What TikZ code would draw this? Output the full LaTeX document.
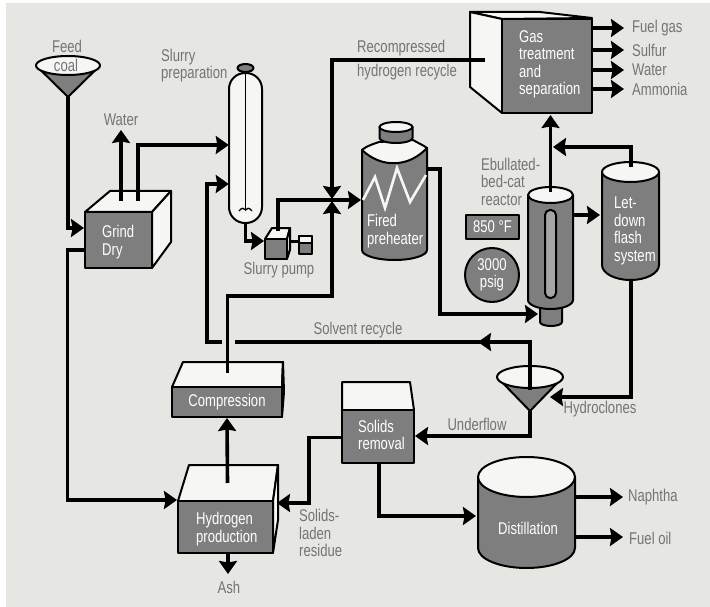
\documentclass[tikz,border=0pt]{standalone}
\usepackage{fontspec}
\setmainfont{Liberation Sans}[FakeStretch=0.77]
\usetikzlibrary{arrows.meta}
\definecolor{paper}{HTML}{E6E6E3}
\definecolor{unitgray}{HTML}{7E7E7E}
\definecolor{labelgray}{HTML}{747474}
\definecolor{topwhite}{HTML}{F6F6F4}
\tikzset{
  outline/.style={draw=black,line width=2pt,line join=round},
  face/.style={outline,fill=topwhite},
  unit/.style={outline,fill=unitgray,inner sep=0pt,text=white,align=left,font=\fontsize{17}{17.5}\selectfont},
  plain/.style={inner sep=0pt,text=white,align=left,font=\fontsize{17}{17.5}\selectfont},
  lbl/.style={inner sep=0pt,text=labelgray,align=left,font=\fontsize{17}{17.5}\selectfont},
  flow/.style={draw=black,line width=3.6pt,line join=miter,-{Stealth[length=13pt,width=18pt,inset=1.5pt]}},
  pipe/.style={draw=black,line width=3.6pt,line join=miter},
}
% cx, rx, y of top ellipse centre, ry top, y side bottom, ry bottom
\newcommand{\drumshape}[6]{%
  \draw[outline,fill=unitgray] ({#1-#2},#3) -- ({#1-#2},#5)
    arc[start angle=180,end angle=360,x radius=#2 pt,y radius=#6 pt] -- ({#1+#2},#3) -- cycle;
  \draw[face] (#1,#3) ellipse[x radius=#2 pt,y radius=#4 pt];
}
% ellipse cx, cy, rx, ry, apex y
\newcommand{\funnelshape}[5]{%
  \draw[outline,fill=unitgray] ({#1-#3},#2) -- (#1,#5) -- ({#1+#3},#2) -- cycle;
  \draw[face] (#1,#2) ellipse[x radius=#3 pt,y radius=#4 pt];
}
\begin{document}
\begin{tikzpicture}[x=1pt,y=-1pt]
\useasboundingbox (0,0) rectangle (710,607);
\fill[white] (0,0) rectangle (710,607);
\fill[paper] (6,3) rectangle (710,607);

% --- Feed funnel
\funnelshape{68}{65.5}{32}{9.5}{97}
\node[lbl] (feedlbl) at (67,46) {Feed};
\node[lbl] (coallbl) at (66,65) {coal};
\coordinate (feedapex) at (68,97);

% --- Grind / Dry
\draw[face] (85,212) -- (110,191) -- (171,191) -- (152,212) -- cycle;
\draw[face] (152,212) -- (171,191) -- (171,242) -- (152,268) -- cycle;
\node[unit,minimum width=67pt,minimum height=56pt] (grind) at (118.5,240) {};
\node[plain,anchor=west] (grindtxt) at (102,242) {Grind\\Dry};
\coordinate (waterstart) at (121,201);
\coordinate (waterend) at (121,130);
\coordinate (drystart) at (138,201);
\node[lbl] (waterlbl) at (121,120) {Water};

% --- Slurry column
\draw[face,rounded corners=16pt] (229,73) rectangle (262,223);
\draw[outline,fill=unitgray] (245.5,68) ellipse[x radius=8pt,y radius=4pt];
\node[inner sep=0pt,minimum width=33pt,minimum height=150pt] (column) at (245.5,148) {};
\draw[black,line width=1.3pt] (245.5,73) -- (245.5,210);
\draw[black,line width=1.3pt] (239,211) .. controls (242,207) and (244,208) .. (245.5,210) .. controls (247,208) and (249,207) .. (252,211);
\node[lbl,anchor=west] (slurrylbl) at (161,65.5) {Slurry\\preparation};

% --- Slurry pump
\draw[face] (265,239) -- (272,228) -- (290,228) -- (287,239) -- cycle;
\draw[face] (287,239) -- (290,228) -- (290,250) -- (287,259) -- cycle;
\node[unit,minimum width=22pt,minimum height=20pt] (pump) at (276,249) {};
\draw[black,line width=3pt] (290,241) -- (299,241);
\draw[outline,fill=unitgray] (299,236) rectangle (312,254);
\draw[outline,fill=topwhite] (299,236) rectangle (312,243);
\node[lbl] (pumplbl) at (279,270) {Slurry pump};

% --- Fired preheater
\draw[outline,fill=unitgray] (362,150) -- (362,250)
   arc[start angle=180,end angle=360,x radius=32.5pt,y radius=10pt] -- (427,148) -- cycle;
\draw[face] (362,150) .. controls (368,145) and (374,144) .. (379,142)
   -- (413,140) .. controls (418,143) and (423,145) .. (427,148)
   .. controls (408,168) and (381,168) .. (362,150) -- cycle;
\draw[outline,fill=unitgray] (379.5,127) -- (379.5,138)
   arc[start angle=180,end angle=360,x radius=16.5pt,y radius=5pt] -- (412.5,127) -- cycle;
\draw[face] (396,127) ellipse[x radius=16.5pt,y radius=5pt];
\draw[topwhite,line width=2.6pt,line join=miter] (363,200) -- (375,177) -- (385,208) -- (397,168) -- (410,202) -- (426,175);
\node[plain,anchor=west] (preheater) at (367,231) {Fired\\preheater};
\coordinate (heatin) at (361,200);

% --- Gas treatment
\draw[face] (470,12) -- (540,12) -- (592,18) -- (502,19) -- cycle;
\draw[face] (470,12) -- (502,19) -- (502,113) -- (470,87) -- cycle;
\node[unit,minimum width=90pt,minimum height=94pt] (gas) at (547,66) {};
\node[plain,anchor=west] (gastxt) at (519,64.5) {Gas\\treatment\\and\\separation};
\coordinate (recycleend) at (485,60);
\node[lbl,anchor=west] (recomp) at (357,48) {Recompressed};
\node[lbl,anchor=west] (hrecycle) at (357,72) {hydrogen recycle};
\node[lbl,anchor=west] (fuelgas) at (632,28) {Fuel gas};
\node[lbl,anchor=west] (sulfur) at (632,50) {Sulfur};
\node[lbl,anchor=west] (water2) at (632,70) {Water};
\node[lbl,anchor=west] (ammonia) at (632,89) {Ammonia};

% --- Reactor
\draw[outline,fill=unitgray] (540,300) -- (540,322) arc[start angle=180,end angle=360,x radius=11pt,y radius=4pt] -- (562,300) -- cycle;
\drumshape{550.5}{22.5}{195}{8}{300}{9}
\draw[outline,fill=unitgray!70!white,rounded corners=5pt] (545,210) rectangle (556,298);
\node[inner sep=0pt,minimum width=45pt,minimum height=115pt] (reactor) at (550.5,250) {};
\node[lbl,anchor=west] (eblbl) at (481,181.5) {Ebullated-\\bed-cat\\reactor};
\node[unit,minimum width=53pt,minimum height=24pt,align=center] (temp) at (492.5,227) {850 °F};
\node[unit,circle,minimum size=54pt,align=center] (press) at (492,275) {3000\\psig};

% --- Let-down
\drumshape{630.5}{28.5}{172}{10}{265}{15}
\node[plain,anchor=west] (letdown) at (614,231) {Let-\\down\\flash\\system};

% --- Compression
\draw[face] (172,387) -- (183,362) -- (283,362) -- (282,387) -- cycle;
\draw[face] (282,387) -- (283,362) -- (284,392) -- (282,417) -- cycle;
\node[unit,minimum width=110pt,minimum height=30pt,align=center] (compress) at (227,402) {Compression};

% --- Hydrogen production
\draw[face] (178,501) -- (189,465) -- (278,465) -- (273,501) -- cycle;
\draw[face] (273,501) -- (278,465) -- (278,520) -- (273,553) -- cycle;
\node[unit,minimum width=95pt,minimum height=52pt] (hydrogen) at (225.5,527) {};
\node[plain,anchor=west] (hydrotxt) at (196,529) {Hydrogen\\production};
\node[lbl] (ashlbl) at (229,587) {Ash};
\coordinate (ashend) at (228,574);
\node[lbl,anchor=west] (residue) at (299,533) {Solids-\\laden\\residue};

% --- Solids removal
\draw[face] (342,410) -- (342,382) -- (410,382) -- (414,410) -- cycle;
\node[unit,minimum width=72pt,minimum height=53pt] (solids) at (378,436.5) {};
\node[plain,anchor=west] (solidstxt) at (358,435) {Solids\\removal};

% --- Hydroclones
\funnelshape{530}{377}{33}{11}{411}
\coordinate (cloneapex) at (530,411);
\coordinate (clonein) at (550,397);
\node[lbl] (clonelbl) at (600,409) {Hydroclones};
\node[lbl] (underlbl) at (477,424) {Underflow};
\node[lbl] (solventlbl) at (358,330) {Solvent recycle};

% --- Distillation
\drumshape{526.5}{48.5}{477}{20}{548}{20}
\node[plain] (distill) at (528,528) {Distillation};
\node[lbl,anchor=west] (naphtha) at (628,497) {Naphtha};
\node[lbl,anchor=west] (fueloil) at (629,538) {Fuel oil};

% --- Connectors
\draw[flow] (feedapex) |- ([yshift=12pt]grind.west);
\draw[flow] ([yshift=-10pt]grind.west) -- (67.5,250) |- (hydrogen.north west);
\draw[flow] (waterstart) -- (waterend);
\draw[flow] (drystart) |- (column.west |- 0,145);
\draw[flow] (column.south) |- (pump.west |- 0,241);
\draw[flow] (278,231) |- (heatin);
\draw[flow] (recycleend) -| (332,199);
\draw[flow] (227.5,373) |- (332,296) -- (332,201);
\draw[flow] (222,342) -- (207,342) |- (column.west |- 0,184);
\draw[pipe] (235,342) -- (530,342) -- (530,390);
\draw[flow] (530,342) -- (478,342);
\draw[flow] (227.5,483) -- (compress.south);
\draw[flow] (hydrogen.south) ++(2.5,0) -- (ashend);
\draw[flow] (cloneapex) |- (solids.east |- 0,436);
\draw[flow] (631,280) |- (clonein);
\draw[flow] ([yshift=-1pt]solids.west) -| (309,503) -- (277,503);
\draw[flow] (solids.south) ++(1,0) |- (476,516);
\draw[flow] (427,169) -| (440,314) -- (538,314);
\draw[flow] (550.5,192) -- (550.5,115);
\draw[flow] (631,167) |- (553,147);
\draw[flow] (573,215) -- (600,215);
\foreach \yy in {28,50,70,89}{
  \draw[flow] (592,\yy) -- (624,\yy);
}
\draw[flow] (575,497) -- (623,497);
\draw[flow] (575,537) -- (623,537);
\end{tikzpicture}
\end{document}
